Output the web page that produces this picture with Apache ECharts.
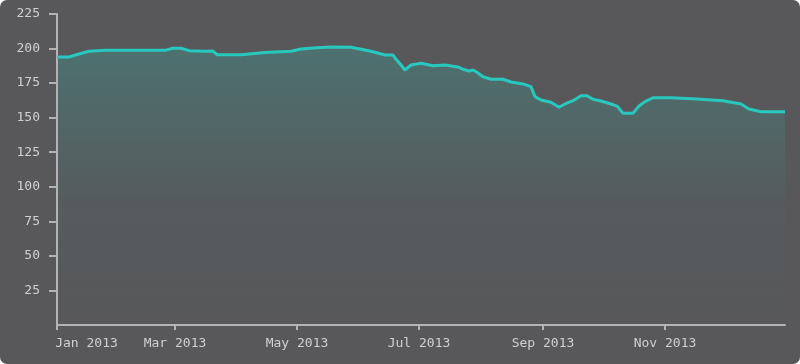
<!DOCTYPE html>
<html>
<head>
<meta charset="utf-8">
<script src="https://cdn.jsdelivr.net/npm/echarts@6/dist/echarts.min.js"></script>
<style>
html,body{margin:0;padding:0;background:#ffffff;}
#chart{width:800px;height:364px;background:#58585a;border-radius:7px;overflow:hidden;}
</style>
</head>
<body>
<div id="chart"></div>
<script>
// Data
var dates = ['2013-01-01','2013-01-07','2013-01-12','2013-01-17','2013-01-25','2013-02-09','2013-02-24','2013-02-28',
 '2013-03-04','2013-03-08','2013-03-16','2013-03-20','2013-03-22','2013-04-03','2013-04-15','2013-04-28',
 '2013-05-03','2013-05-09','2013-05-18','2013-05-28','2013-06-04','2013-06-09','2013-06-14','2013-06-18',
 '2013-06-19','2013-06-22','2013-06-24','2013-06-27','2013-07-02','2013-07-08','2013-07-14','2013-07-21',
 '2013-07-23','2013-07-26','2013-07-28','2013-07-30','2013-08-02','2013-08-06','2013-08-12','2013-08-16',
 '2013-08-22','2013-08-26','2013-08-28','2013-08-31','2013-09-05','2013-09-09','2013-09-12','2013-09-16',
 '2013-09-20','2013-09-23','2013-09-26','2013-09-30','2013-10-05','2013-10-08','2013-10-11','2013-10-16',
 '2013-10-19','2013-10-22','2013-10-26','2013-11-04','2013-11-17','2013-11-30','2013-12-09','2013-12-13',
 '2013-12-19','2013-12-31'];
var values = [193.9,193.9,196.1,198.0,198.7,198.7,198.7,200.2,
 200.2,198.5,198.0,198.2,195.6,195.6,197.2,198.0,
 199.7,200.4,201.1,200.9,199.0,197.3,195.3,195.3,
 193.2,188.1,184.5,188.1,189.3,187.6,188.1,186.4,
 185.0,183.8,184.5,182.8,179.6,177.8,177.8,175.8,
 174.4,172.4,165.2,162.8,161.1,157.5,159.9,162.3,
 165.9,165.9,163.3,162.1,159.9,158.4,153.2,153.2,
 158.4,161.6,164.4,164.4,163.5,162.3,159.9,156.3,
 154.3,154.3];
var monthNames = ['Jan','Feb','Mar','Apr','May','Jun','Jul','Aug','Sep','Oct','Nov','Dec'];
var yMin = 0, yMax = 225, yStep = 25;
var xStart = '2013-01-01', xEnd = '2013-12-31';

var seriesData = dates.map(function(d, i){ return [d, values[i]]; });
var FONT = 'DejaVu Sans Mono';
var startTime = new Date(xStart + 'T00:00:00').getTime();
var chart = echarts.init(document.getElementById('chart'), null, {renderer:'canvas'});
chart.setOption({
  backgroundColor: 'transparent',
  animation: false,
  grid: {left: 57, right: 15, top: 14, bottom: 39, containLabel: false},
  xAxis: {
    type: 'time',
    min: xStart,
    max: xEnd,
    splitNumber: 6,
    axisLine: {lineStyle: {color: '#b4b4b4', width: 2}},
    axisTick: {show: true, length: 5, lineStyle: {color: '#b4b4b4', width: 2}},
    splitLine: {show: false},
    minorTick: {show: false},
    axisLabel: {
      color: '#d0d0d0',
      fontFamily: FONT,
      fontSize: 13,
      margin: 12,
      showMaxLabel: false,
      formatter: function (val) {
        var d = new Date(val);
        var txt = monthNames[d.getMonth()] + ' ' + d.getFullYear();
        if (Math.abs(val - startTime) < 86400000) return '{first|' + txt + '}';
        return txt;
      },
      rich: {
        first: {color: '#d0d0d0', fontFamily: FONT, fontSize: 13, padding: [0, 0, 0, 59]}
      }
    }
  },
  yAxis: {
    type: 'value',
    min: yMin,
    max: yMax,
    interval: yStep,
    axisLine: {show: true, lineStyle: {color: '#b4b4b4', width: 2}},
    axisTick: {show: true, length: 8, lineStyle: {color: '#b4b4b4', width: 2}},
    splitLine: {show: false},
    axisLabel: {
      color: '#d0d0d0',
      fontFamily: FONT,
      fontSize: 13,
      margin: 17,
      showMinLabel: false
    }
  },
  series: [{
    type: 'line',
    data: seriesData,
    showSymbol: false,
    smooth: false,
    lineStyle: {color: '#28c8bf', width: 3},
    itemStyle: {color: '#28c8bf'},
    areaStyle: {
      color: new echarts.graphic.LinearGradient(0, 0, 0, 1, [
        {offset: 0, color: 'rgba(40,200,191,0.32)'},
        {offset: 0.55, color: 'rgba(40,200,191,0.05)'},
        {offset: 1, color: 'rgba(40,200,191,0)'}
      ])
    }
  }]
});
</script>
</body>
</html>
